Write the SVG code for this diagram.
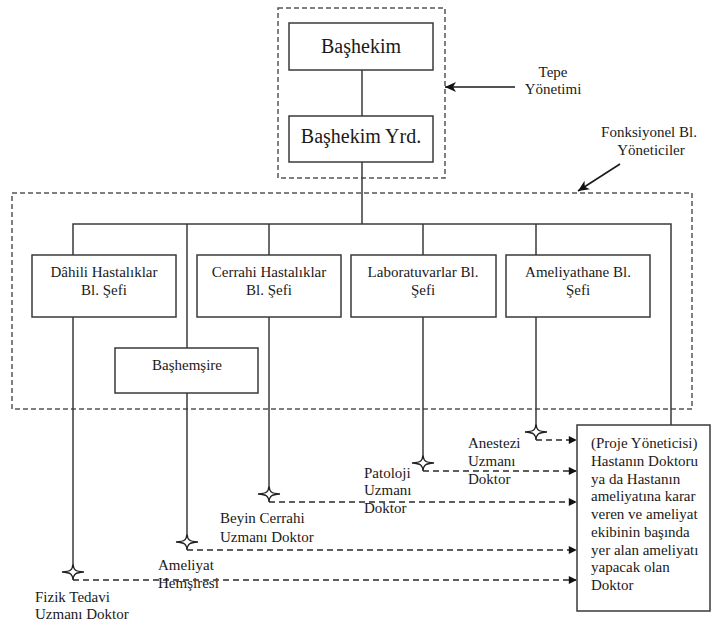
<svg xmlns="http://www.w3.org/2000/svg" width="713" height="621" viewBox="0 0 713 621">
  <style>
    .box { fill: #ffffff; stroke: #3a3a3a; stroke-width: 1.5; }
    .frame { fill: none; stroke: #555555; stroke-width: 1.5; stroke-dasharray: 5 3; }
    .line { fill: none; stroke: #3a3a3a; stroke-width: 1.5; }
    .dash { fill: none; stroke: #2a2a2a; stroke-width: 1.5; stroke-dasharray: 6 4; }
    .arrow { fill: none; stroke: #1a1a1a; stroke-width: 1.6; }
    text { font-family: 'Liberation Serif', 'Times New Roman', 'DejaVu Serif', serif; fill: #1a1a1a; font-size: 15px; }
    .big { font-size: 20px; }
    .mid { text-anchor: middle; }
  </style>
  <defs>
    <marker id="tri" viewBox="0 0 10 10" refX="9" refY="5" markerWidth="9" markerHeight="8" markerUnits="userSpaceOnUse" orient="auto">
      <path d="M0,0 L10,5 L0,10 Z" fill="#111111"/>
    </marker>
    <marker id="open" viewBox="0 0 12 12" refX="11" refY="6" markerWidth="12" markerHeight="12" markerUnits="userSpaceOnUse" orient="auto">
      <path d="M0,1 L11,6 L0,11 L3,6 Z" fill="#111111"/>
    </marker>
    <!-- four-pointed sparkle used as line terminator -->
    <path id="star" d="M-11,0 C-2,-0.6 -0.6,-2 0,-8 C0.6,-2 2,-0.6 11,0 C2,0.6 0.6,2 0,8 C-0.6,2 -2,0.6 -11,0 Z" fill="#ffffff" stroke="#222222" stroke-width="1.4"/>
  </defs>

  <!-- management frames -->
  <g id="frames">
    <rect class="frame" x="278" y="8" width="167" height="170"/>
    <rect class="frame" x="12" y="193" width="680" height="216"/>
  </g>

  <!-- connectors -->
  <g id="connectors">
    <line class="line" x1="362" y1="70" x2="362" y2="116"/>
    <line class="line" x1="362" y1="162" x2="362" y2="224"/>
    <polyline class="line" points="73,255 73,224 671,224 671,425"/>
    <line class="line" x1="187" y1="224" x2="187" y2="348"/>
    <line class="line" x1="269" y1="224" x2="269" y2="255"/>
    <line class="line" x1="423" y1="224" x2="423" y2="255"/>
    <line class="line" x1="536" y1="224" x2="536" y2="255"/>

    <line class="line" x1="73" y1="317" x2="73" y2="564"/>
    <line class="line" x1="187" y1="393" x2="187" y2="534"/>
    <line class="line" x1="269" y1="317" x2="269" y2="486"/>
    <line class="line" x1="423" y1="317" x2="423" y2="455"/>
    <line class="line" x1="536" y1="317" x2="536" y2="424"/>

    <path class="dash" d="M73,580 H576" marker-end="url(#tri)"/>
    <path class="dash" d="M187,550 H576" marker-end="url(#tri)"/>
    <path class="dash" d="M269,502 H576" marker-end="url(#tri)"/>
    <path class="dash" d="M423,471 H576" marker-end="url(#tri)"/>
    <path class="dash" d="M536,440 H576" marker-end="url(#tri)"/>

    <use href="#star" x="73" y="572"/>
    <use href="#star" x="187" y="542"/>
    <use href="#star" x="269" y="494"/>
    <use href="#star" x="423" y="463"/>
    <use href="#star" x="536" y="432"/>

    <line class="arrow" x1="515" y1="87" x2="445" y2="87" marker-end="url(#open)"/>
    <line class="arrow" x1="620" y1="164" x2="578" y2="191" marker-end="url(#open)"/>
  </g>

  <!-- nodes -->
  <g id="bashekim">
    <rect class="box" x="289" y="23" width="144" height="47"/>
    <text class="big mid" x="361" y="53">Başhekim</text>
  </g>
  <g id="bashekim-yrd">
    <rect class="box" x="289" y="116" width="144" height="46"/>
    <text class="big mid" x="361" y="143">Başhekim Yrd.</text>
  </g>
  <g id="dahili">
    <rect class="box" x="32" y="255" width="144" height="62"/>
    <text class="mid" x="104" y="277">Dâhili Hastalıklar</text>
    <text class="mid" x="104" y="295">Bl. Şefi</text>
  </g>
  <g id="cerrahi">
    <rect class="box" x="197" y="255" width="144" height="62"/>
    <text class="mid" x="269" y="277">Cerrahi Hastalıklar</text>
    <text class="mid" x="269" y="295">Bl. Şefi</text>
  </g>
  <g id="laboratuvar">
    <rect class="box" x="351" y="255" width="145" height="62"/>
    <text class="mid" x="423" y="277">Laboratuvarlar Bl.</text>
    <text class="mid" x="423" y="295">Şefi</text>
  </g>
  <g id="ameliyathane">
    <rect class="box" x="506" y="255" width="144" height="62"/>
    <text class="mid" x="578" y="277">Ameliyathane Bl.</text>
    <text class="mid" x="578" y="295">Şefi</text>
  </g>
  <g id="bashemsire">
    <rect class="box" x="115" y="348" width="143" height="45"/>
    <text class="mid" x="187" y="370">Başhemşire</text>
  </g>
  <g id="proje-yoneticisi">
    <rect class="box" x="577" y="425" width="133" height="186"/>
    <text x="591" y="448">(Proje Yöneticisi)</text>
    <text x="591" y="466">Hastanın Doktoru</text>
    <text x="591" y="484">ya da Hastanın</text>
    <text x="591" y="501">ameliyatına karar</text>
    <text x="591" y="519">veren ve ameliyat</text>
    <text x="591" y="537">ekibinin başında</text>
    <text x="591" y="555">yer alan ameliyatı</text>
    <text x="591" y="572">yapacak olan</text>
    <text x="591" y="590">Doktor</text>
  </g>

  <!-- labels -->
  <g id="labels">
    <text class="mid" x="553" y="77">Tepe</text>
    <text class="mid" x="553" y="94">Yönetimi</text>
    <text class="mid" x="649" y="137">Fonksiyonel Bl.</text>
    <text class="mid" x="651" y="155">Yöneticiler</text>
    <text x="468" y="448">Anestezi</text>
    <text x="468" y="466">Uzmanı</text>
    <text x="468" y="484">Doktor</text>
    <text x="364" y="478">Patoloji</text>
    <text x="364" y="495">Uzmanı</text>
    <text x="364" y="513">Doktor</text>
    <text x="220" y="523">Beyin Cerrahi</text>
    <text x="220" y="542">Uzmanı Doktor</text>
    <text x="158" y="570">Ameliyat</text>
    <text x="158" y="588">Hemşiresi</text>
    <text x="35" y="602">Fizik Tedavi</text>
    <text x="35" y="619">Uzmanı Doktor</text>
  </g>
</svg>
